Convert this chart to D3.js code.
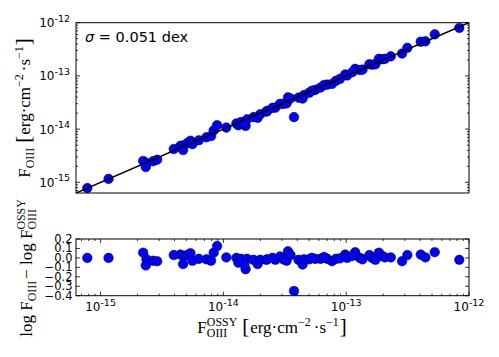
<!DOCTYPE html>
<html>
<head>
<meta charset="utf-8">
<script src="https://cdn.jsdelivr.net/npm/d3@7"></script>
<style>
  body { margin: 0; background: #fff; }
  svg { display: block; }
</style>
</head>
<body>
<div id="chart"></div>
<script>
// log10 of the OSSY [OIII] flux
const logOssy = [-15.108, -14.935, -14.653, -14.626, -14.632, -14.572, -14.539, -14.404, -14.350, -14.323,
  -14.328, -14.295, -14.268, -14.252, -14.138, -14.100, -14.079, -14.051, -13.976, -13.894,
  -13.878, -13.856, -13.819, -13.807, -13.829, -13.754, -13.721, -13.699, -13.650, -13.642,
  -13.577, -13.539, -13.512, -13.485, -13.474, -13.453, -13.425, -13.388, -13.355, -13.344,
  -13.301, -13.252, -13.209, -13.154, -13.116, -13.084, -13.008, -12.992, -12.927, -12.889,
  -12.867, -12.811, -12.789, -12.762, -12.734, -12.707, -12.685, -12.637, -12.545, -12.502,
  -12.393, -12.355, -12.279, -12.079, -14.200, -13.600, -13.280, -13.180, -13.050, -12.950];
// log F_OIII - log F_OIII^OSSY for the same objects
const resid = [0.00, 0.00, 0.055, -0.015, -0.08, -0.03, -0.035, 0.03, 0.035, 0.02,
  -0.065, 0.03, 0.05, -0.03, -0.015, -0.03, 0.055, 0.125, 0.005, 0.0,
  -0.05, -0.01, -0.12, -0.01, -0.07, -0.02, -0.065, -0.02, -0.02, -0.015,
  -0.02, 0.015, -0.015, -0.03, 0.07, 0.03, -0.35, -0.02, -0.07, -0.015,
  -0.015, -0.01, -0.01, -0.01, -0.035, -0.01, 0.035, 0.0, 0.06, 0.0,
  -0.015, 0.03, 0.0, -0.02, 0.055, 0.02, 0.005, 0.005, -0.035, 0.03,
  0.035, 0.005, 0.06, -0.02, -0.01, 0.0, 0.0, 0.01, -0.005, 0.02];

const fluxDomain = [Math.pow(10, -15.2), 1e-12];
const residTicks = [0.2, 0.1, 0.0, -0.1, -0.2, -0.3, -0.4];
const sigmaText = '0.051 dex';

const points = logOssy.map((lx, i) => ({
  ossy: Math.pow(10, lx),
  oiii: Math.pow(10, lx + resid[i]),
  r: resid[i]
}));

const W = 499, H = 357;
const topBox = { l: 76, r: 469, t: 22.7, b: 193 };
const botBox = { l: 76, r: 469, t: 239, b: 295.7 };
const sans = 'DejaVu Sans, sans-serif';
const serif = 'Liberation Serif, serif';

const svg = d3.select('#chart').append('svg')
  .attr('width', W).attr('height', H)
  .style('background', '#fff');

const x = d3.scaleLog().domain(fluxDomain).range([topBox.l, topBox.r]);
const yTop = d3.scaleLog().domain(fluxDomain).range([topBox.b, topBox.t]);
const yBot = d3.scaleLinear().domain([-0.4, 0.2]).range([botBox.b, botBox.t]);

const isMajor = d => Math.abs(Math.log10(d) - Math.round(Math.log10(d))) < 1e-6;

// clip paths
[['clipTop', topBox], ['clipBot', botBox]].forEach(([id, b]) => {
  svg.append('clipPath').attr('id', id).append('rect')
    .attr('x', b.l).attr('y', b.t).attr('width', b.r - b.l).attr('height', b.b - b.t);
});

// ---- top panel ----
const gTop = svg.append('g').attr('clip-path', 'url(#clipTop)');
gTop.selectAll('circle').data(points).join('circle')
  .attr('cx', d => x(d.ossy))
  .attr('cy', d => yTop(d.oiii))
  .attr('r', 4.8)
  .attr('fill', '#0000ff')
  .attr('stroke', '#000')
  .attr('stroke-width', 0.5);

gTop.append('line')
  .attr('x1', x(fluxDomain[0])).attr('y1', yTop(fluxDomain[0]))
  .attr('x2', x(fluxDomain[1])).attr('y2', yTop(fluxDomain[1]))
  .attr('stroke', '#000').attr('stroke-width', 1.6);

// y ticks, left and right, inward
const yLogTicks = yTop.ticks().filter(d => d >= fluxDomain[0] && d <= fluxDomain[1]);
yLogTicks.forEach(d => {
  const len = isMajor(d) ? 4 : 2;
  const yy = yTop(d);
  svg.append('line').attr('x1', topBox.l).attr('x2', topBox.l + len).attr('y1', yy).attr('y2', yy)
    .attr('stroke', '#000').attr('stroke-width', 0.8);
  svg.append('line').attr('x1', topBox.r).attr('x2', topBox.r - len).attr('y1', yy).attr('y2', yy)
    .attr('stroke', '#000').attr('stroke-width', 0.8);
});

function powLabel(parent, val, px, py, anchor) {
  const e = Math.round(Math.log10(val));
  const t = parent.append('text')
    .attr('font-family', sans).attr('font-size', 12).attr('fill', '#000');
  t.append('tspan').text('10');
  t.append('tspan').attr('font-size', 9.5).attr('dy', -5.5).text(String(e));
  const w = t.node().getComputedTextLength();
  const x0 = anchor === 'end' ? px - w : px - w / 2;
  t.attr('x', x0).attr('y', py);
}

yLogTicks.filter(isMajor).forEach(d => {
  powLabel(svg, d, 70, yTop(d) + 4.5, 'end');
});

svg.append('rect')
  .attr('x', topBox.l).attr('y', topBox.t).attr('width', topBox.r - topBox.l).attr('height', topBox.b - topBox.t)
  .attr('fill', 'none').attr('stroke', '#000').attr('stroke-width', 1);

// sigma annotation
const sig = svg.append('text').attr('x', 85).attr('y', 41.5)
  .attr('font-family', sans).attr('font-size', 14.5).attr('fill', '#000');
sig.append('tspan').attr('font-style', 'italic').text('σ');
sig.append('tspan').text(' = ' + sigmaText);

// ---- bottom panel ----
const gBot = svg.append('g').attr('clip-path', 'url(#clipBot)');
gBot.selectAll('circle').data(points).join('circle')
  .attr('cx', d => x(d.ossy))
  .attr('cy', d => yBot(d.r))
  .attr('r', 4.8)
  .attr('fill', '#0000ff')
  .attr('stroke', '#000')
  .attr('stroke-width', 0.5);

const xLogTicks = x.ticks().filter(d => d >= fluxDomain[0] && d <= fluxDomain[1]);
xLogTicks.forEach(d => {
  const len = isMajor(d) ? 4 : 2;
  const xx = x(d);
  svg.append('line').attr('x1', xx).attr('x2', xx).attr('y1', botBox.b).attr('y2', botBox.b - len)
    .attr('stroke', '#000').attr('stroke-width', 0.8);
  svg.append('line').attr('x1', xx).attr('x2', xx).attr('y1', botBox.t).attr('y2', botBox.t + len)
    .attr('stroke', '#000').attr('stroke-width', 0.8);
});
xLogTicks.filter(isMajor).forEach(d => {
  powLabel(svg, d, x(d), 311, 'middle');
});

residTicks.forEach(v => {
  const yy = yBot(v);
  svg.append('line').attr('x1', botBox.l).attr('x2', botBox.l + 4).attr('y1', yy).attr('y2', yy)
    .attr('stroke', '#000').attr('stroke-width', 0.8);
  svg.append('line').attr('x1', botBox.r).attr('x2', botBox.r - 4).attr('y1', yy).attr('y2', yy)
    .attr('stroke', '#000').attr('stroke-width', 0.8);
  svg.append('text')
    .attr('x', 72.5).attr('y', yy + 4)
    .attr('text-anchor', 'end')
    .attr('font-family', sans).attr('font-size', 11.5).attr('fill', '#000')
    .text(v === 0 ? '0.0' : (v < 0 ? '\u2212' + Math.abs(v).toFixed(1) : v.toFixed(1)));
});

svg.append('rect')
  .attr('x', botBox.l).attr('y', botBox.t).attr('width', botBox.r - botBox.l).attr('height', botBox.b - botBox.t)
  .attr('fill', 'none').attr('stroke', '#000').attr('stroke-width', 1);

// ---- axis labels (math-like, built from pieces) ----
function mathLabel(parts, size) {
  const g = svg.append('g');
  let cx = 0;
  parts.forEach(p => {
    const fs = p.size || size;
    const t = g.append('text').attr('x', cx).attr('y', 0)
      .attr('font-family', serif).attr('font-size', fs).attr('fill', '#000')
      .style('white-space', 'pre').text(p.t);
    cx += t.node().getComputedTextLength();
    let adv = 0;
    if (p.sup) {
      const s = g.append('text').attr('x', cx).attr('y', -size * 0.42)
        .attr('font-family', serif).attr('font-size', size * 0.7).attr('fill', '#000').text(p.sup);
      adv = Math.max(adv, s.node().getComputedTextLength());
    }
    if (p.sub) {
      const s = g.append('text').attr('x', cx).attr('y', size * 0.25)
        .attr('font-family', serif).attr('font-size', size * 0.7).attr('fill', '#000').text(p.sub);
      adv = Math.max(adv, s.node().getComputedTextLength());
    }
    cx += adv + (p.gap || 0);
  });
  return { g, width: cx };
}

const unitParts = [
  { t: '[', size: 21, gap: 1 },
  { t: 'erg\u00b7cm', sup: '\u22122', gap: 3 },
  { t: '\u00b7s', sup: '\u22121', gap: 1 },
  { t: ']', size: 21 }
];

// x label
const xl = mathLabel([{ t: 'F', sup: 'OSSY', sub: 'OIII', gap: 5 }].concat(unitParts), 17);
xl.g.attr('transform', `translate(${272 - xl.width / 2},333)`);

// top y label
const yl = mathLabel([{ t: 'F', sub: 'OIII', gap: 5 }].concat(unitParts), 17);
yl.g.attr('transform', `translate(30,${108 + yl.width / 2}) rotate(-90)`);

// bottom y label
const rl = mathLabel([
  { t: 'log F', sub: 'OIII', gap: 2 },
  { t: '\u2212 log F', sup: 'OSSY', sub: 'OIII' }
], 17);
rl.g.attr('transform', `translate(32,${268 + rl.width / 2}) rotate(-90)`);
</script>
</body>
</html>
